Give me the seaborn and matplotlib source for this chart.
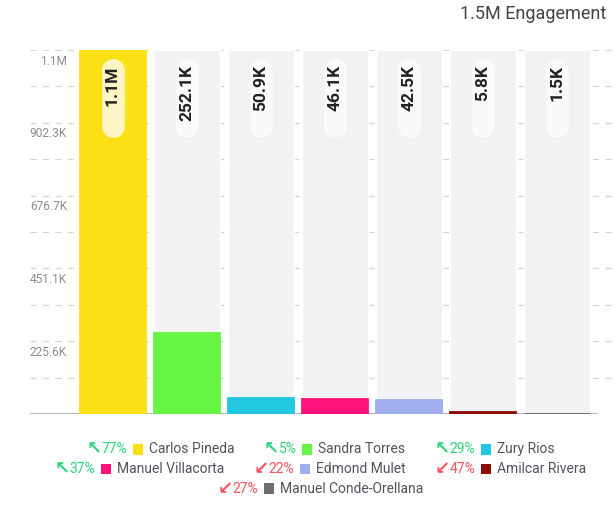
import numpy as np
import matplotlib
matplotlib.use('Agg')
import matplotlib.pyplot as plt
import matplotlib.transforms as mtransforms
from matplotlib.offsetbox import TextArea, DrawingArea, HPacker, VPacker, AnchoredOffsetbox
from matplotlib.patches import Rectangle
import seaborn as sns

# datos del grafico
candidatos = ['Carlos Pineda', 'Sandra Torres', 'Zury Rios', 'Manuel Villacorta',
              'Edmond Mulet', 'Amilcar Rivera', 'Manuel Conde-Orellana']
engagement = [1127850, 252100, 50900, 46100, 42500, 5800, 1500]
etiquetas = ['1.1M', '252.1K', '50.9K', '46.1K', '42.5K', '5.8K', '1.5K']
cambio_pct = [77, 5, 29, 37, -22, -47, -27]
colores = ['#FBE016', '#66F542', '#22C7E0', '#FF1279', '#A0AEEE', '#8B0A0A', '#6E6E6E']
titulo = '1.5M Engagement'

VERDE = '#2ED47A'
ROJO = '#F5535E'
FUENTE = ['Roboto', 'DejaVu Sans']

sns.set_style('white')
plt.rcParams['font.family'] = FUENTE

fig = plt.figure(figsize=(6.16, 5.19), dpi=100)
ax = fig.add_axes([30 / 616, 105 / 519, 586 / 616, 364 / 519])

maximo = max(engagement)
ancho = 0.892

# barras de fondo
sns.barplot(x=candidatos, y=[maximo] * len(candidatos), color='#F1F2F4',
            saturation=1, width=ancho, ax=ax, zorder=1)
# barras con valores
sns.barplot(x=candidatos, y=engagement, hue=candidatos, palette=colores,
            saturation=1, width=ancho, legend=False, ax=ax, zorder=2)
for barra in ax.patches[len(candidatos):]:
    barra.set_edgecolor(barra.get_facecolor())
    barra.set_linewidth(1.3)

ax.set_xlim(-1.115, 6.80)
ax.set_ylim(0, maximo)

# lineas de la cuadricula
paso = maximo / 5
for i in range(1, 11):
    ax.axhline(i * paso / 2, color='#D5D6D8', lw=0.9, ls=(0, (5, 5)), zorder=0)
ax.axhline(0, xmin=0, xmax=(597 - 30) / 586, color='#A8A8A8', lw=1.2, zorder=1.5)

# etiquetas del eje y
trans = mtransforms.blended_transform_factory(ax.transAxes, ax.transData)
desplazar = mtransforms.ScaledTranslation(0, -0.11, fig.dpi_scale_trans)
for i in range(1, 6):
    v = i * paso
    txt = f'{v / 1e6:.1f}M' if v >= 1e6 else f'{v / 1e3:.1f}K'
    ax.text((67 - 30) / 586, v, txt, transform=trans + desplazar, ha='right',
            va='center', fontsize=8.6, color='#8A8D91', zorder=4)

# etiquetas de valor en pastilla
trans_x = mtransforms.blended_transform_factory(ax.transData, ax.transAxes)
for i, lab in enumerate(etiquetas):
    fondo = '#FFF5C4' if i == 0 else '#F9FAFB'
    ax.plot([i, i], [0.945, 0.79], transform=trans_x, color=fondo, lw=16.5,
            solid_capstyle='round', zorder=5)
    ax.text(i, 0.958, lab, transform=trans_x, rotation=90, ha='center', va='top',
            fontsize=12.5, fontweight='bold', color='#222222', zorder=6)

ax.set_xticks([])
ax.set_yticks([])
ax.set_xlabel('')
ax.set_ylabel('')
for s in ax.spines.values():
    s.set_visible(False)

fig.text(606 / 616, 1 - 14 / 519, titulo, ha='right', va='center',
         fontsize=13, color='#444444')

# leyenda personalizada
def elemento(nombre, color, pct):
    sube = pct >= 0
    c = VERDE if sube else ROJO
    flecha = TextArea('↖' if sube else '↙',
                      textprops=dict(color=c, fontsize=13, fontweight='bold',
                                     family=['DejaVu Sans']))
    porcentaje = TextArea(f'{abs(pct)}%', textprops=dict(color=c, fontsize=10))
    cuadro = DrawingArea(7.5, 7.5, 0, 0)
    cuadro.add_artist(Rectangle((0, 0), 7.5, 7.5, fc=color, ec='none'))
    texto = TextArea(nombre, textprops=dict(color='#50555C', fontsize=10))
    return HPacker(children=[HPacker(children=[flecha, porcentaje], sep=0, align='center'),
                             cuadro, texto], sep=4, align='center', pad=0)

filas = []
for ini in range(0, len(candidatos), 3):
    items = [elemento(candidatos[k], colores[k], cambio_pct[k])
             for k in range(ini, min(ini + 3, len(candidatos)))]
    filas.append(HPacker(children=items, sep=21, align='center', pad=0))
leyenda = VPacker(children=filas, sep=1.2, align='center', pad=0)
caja = AnchoredOffsetbox(loc='center', child=leyenda, bbox_to_anchor=(0.52, 1 - 469 / 519),
                         bbox_transform=fig.transFigure, frameon=False, pad=0, borderpad=0)
fig.add_artist(caja)

fig.savefig('out.png', dpi=100)
